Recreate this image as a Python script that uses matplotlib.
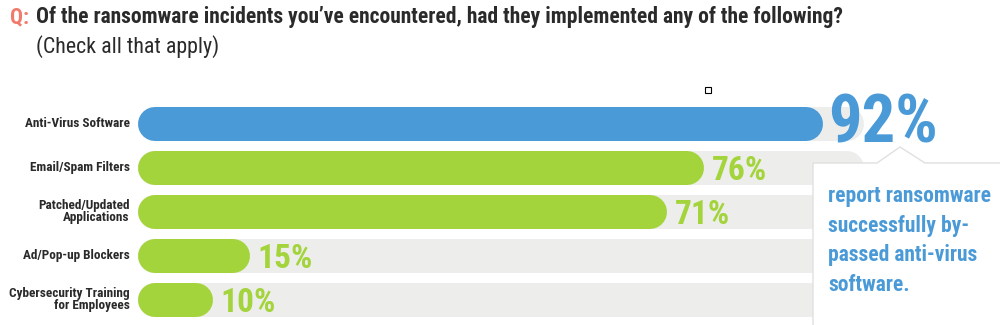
import matplotlib.pyplot as plt
from matplotlib.patches import Polygon, Rectangle

categories = ['Anti-Virus Software', 'Email/Spam Filters', 'Patched/Updated\nApplications',
              'Ad/Pop-up Blockers', 'Cybersecurity Training\nfor Employees']
values = [92, 76, 71, 15, 10]
track_end = 97.5

BLUE = '#4a9ad8'
GREEN = '#a4d43b'
TRACK = '#ededec'
DARK = '#2a2a2a'
SALMON = '#f07b6b'
narrow = ['Roboto Condensed', 'Liberation Sans Narrow', 'DejaVu Sans Condensed',
          'Roboto', 'DejaVu Sans']

W, H = 1000, 325
fig = plt.figure(figsize=(W / 100, H / 100), dpi=100)
fig.patch.set_facecolor('white')

# bars axes: x in percent, 0..100 spans 745 px from x=138
ax = fig.add_axes([138 / W, 3 / H, 745 / W, 220 / H])
ax.set_xlim(0, 100)
ax.set_ylim(4.5, -0.5)
ax.axis('off')

bar_px = 34
lw = bar_px * 72 / 100
r = (bar_px / 2) / 7.45  # cap radius in percent units

for i, (cat, v) in enumerate(zip(categories, values)):
    ax.plot([r, track_end - r], [i, i], color=TRACK, lw=lw, solid_capstyle='round', zorder=1)
    col = BLUE if i == 0 else GREEN
    ax.plot([r, v - r], [i, i], color=col, lw=lw, solid_capstyle='round', zorder=2)
    if i == 0:
        ax.text(v + 0.6, i + 0.02, f'{v}%', color=BLUE, fontsize=48, fontweight='bold',
                family=narrow, va='center', ha='left', zorder=3)
    else:
        ax.text(v + 1.0, i + 0.06, f'{v}%', color=GREEN, fontsize=24, fontweight='bold',
                family=narrow, va='center', ha='left', zorder=3)
    ax.text(-1.1, i, cat, color=DARK, fontsize=9.5, fontweight='bold', family=narrow,
            ha='right', va='center', linespacing=0.9)

# title
fig.text(10 / W, 1 - 17 / H, 'Q:', color=SALMON, fontsize=15.5, fontweight='bold',
         family=narrow, va='center')
fig.text(36 / W, 1 - 17 / H, 'Of the ransomware incidents you\u2019ve encountered, had they implemented any of the following?',
         color=DARK, fontsize=15.5, fontweight='bold', family=narrow, va='center')
fig.text(36 / W, 1 - 47 / H, '(Check all that apply)', color=DARK, fontsize=15.8,
         family=narrow, va='center')

# callout box
pts = [(813, 163), (877, 163), (900, 147), (925, 163), (1010, 163), (1010, 335), (813, 335)]
box = Polygon([(x / W, 1 - y / H) for x, y in pts], closed=True, facecolor='white',
              edgecolor='#e0e0e0', lw=1, transform=fig.transFigure, zorder=5)
fig.add_artist(box)
fig.text(828 / W, 1 - 185 / H,
         'report ransomware\nsuccessfully by-\npassed anti-virus\nsoftware.',
         color=BLUE, fontsize=15.5, fontweight='bold', family=narrow, va='top',
         linespacing=1.45, zorder=6)

# small marker square
fig.add_artist(Rectangle((705 / W, 1 - 93 / H), 6 / W, 6 / H, facecolor='white',
                         edgecolor='black', lw=0.8, transform=fig.transFigure, zorder=6))

fig.savefig('out.png', dpi=100)
